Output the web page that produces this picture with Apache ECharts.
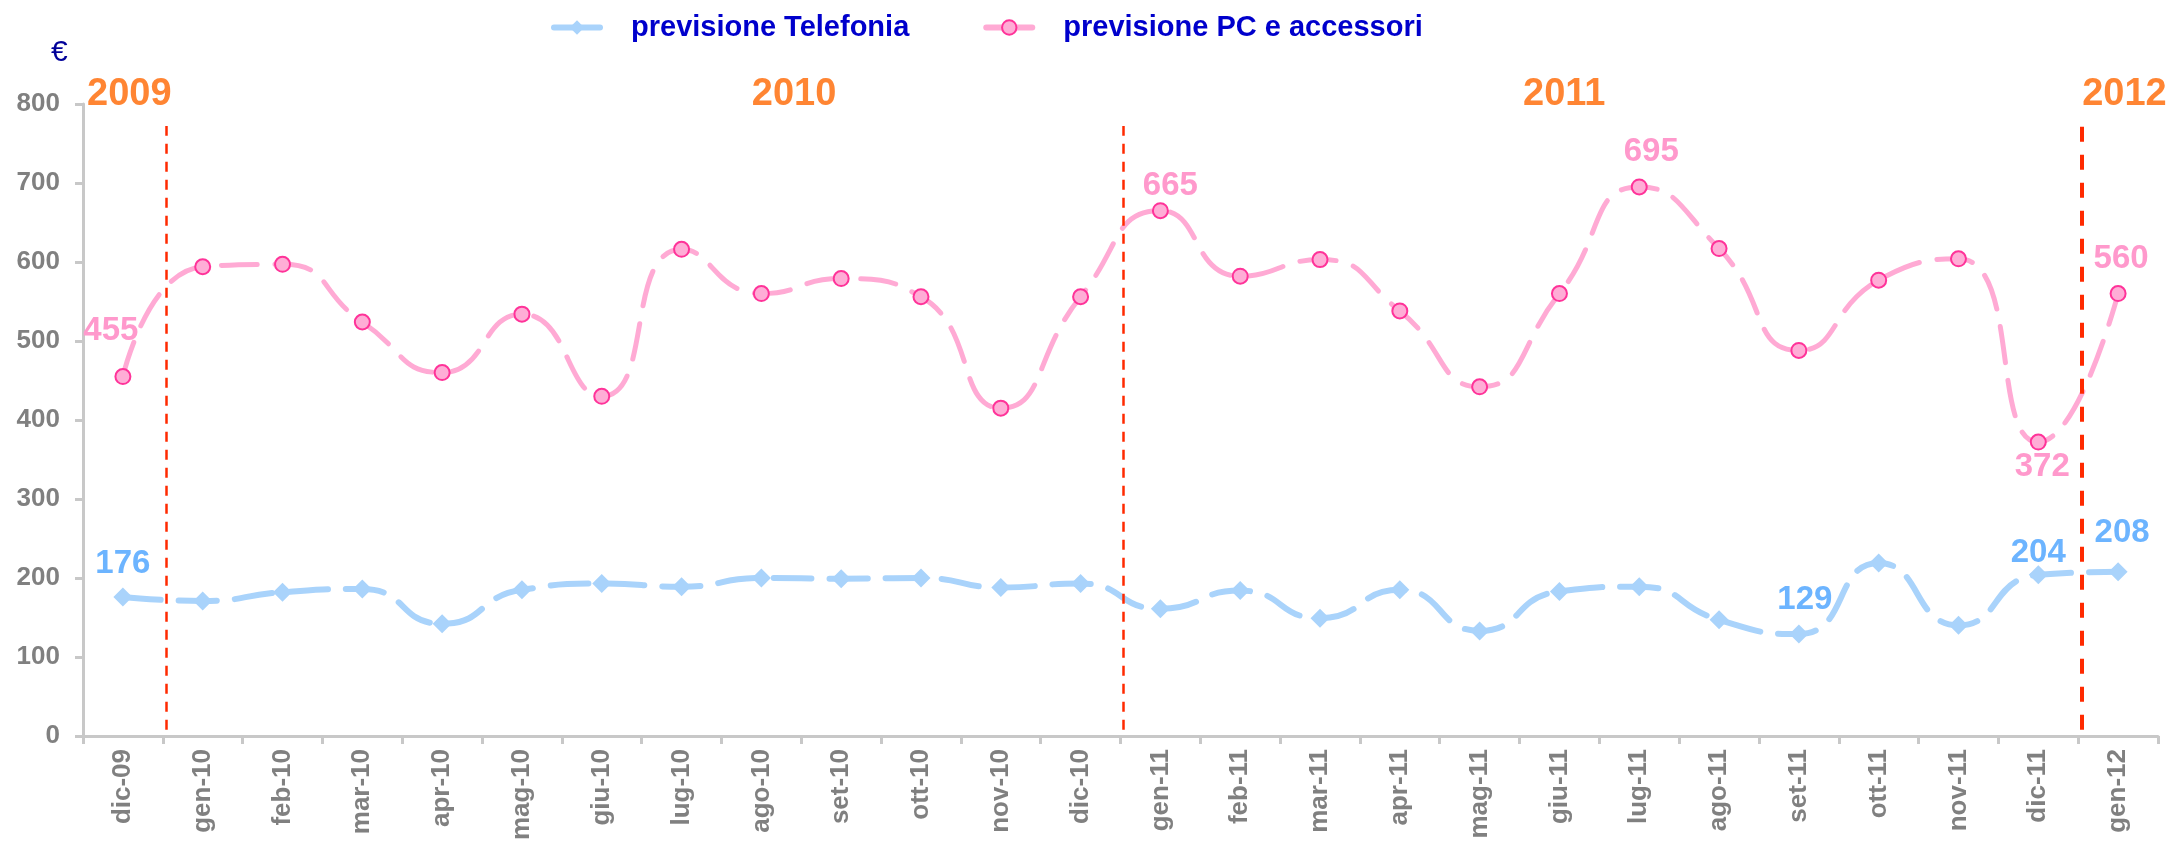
<!DOCTYPE html>
<html>
<head>
<meta charset="utf-8">
<title>previsione Telefonia / PC e accessori</title>
<script src="https://cdn.jsdelivr.net/npm/echarts@6.0.0/dist/echarts.min.js"></script>
<style>
  html, body { margin: 0; padding: 0; background: #fff; }
  #chart_1 { width: 2174px; height: 843px; }
</style>
</head>
<body>
<div id="chart_1"></div>
<script>
var mesi = ['dic-09', 'gen-10', 'feb-10', 'mar-10', 'apr-10', 'mag-10', 'giu-10', 'lug-10', 'ago-10',
  'set-10', 'ott-10', 'nov-10', 'dic-10', 'gen-11', 'feb-11', 'mar-11', 'apr-11', 'mag-11', 'giu-11',
  'lug-11', 'ago-11', 'set-11', 'ott-11', 'nov-11', 'dic-11', 'gen-12'];
var telefonia = [176, 171, 182, 186, 142, 185, 193, 189, 200, 199, 200, 188, 193,
  161, 184, 149, 185, 133, 183, 189, 147, 129, 219, 140, 204, 208];
var pcAccessori = [455, 594, 597, 524, 460, 534, 430, 616, 560, 579, 556, 415, 556,
  665, 582, 603, 538, 442, 560, 695, 617, 488, 577, 604, 372, 560];
var anni = ['2009', '2010', '2011', '2012'];
var cambioAnno = [1, 13, 25]; // confine tra dic e gen (indice categoria)

var font = '"Liberation Sans", Arial, sans-serif';

chart();

function chart() {
  var myChart = echarts.init(document.getElementById('chart_1'));

  // etichette sui punti: indice -> [posizione, distanza, spostamento x]
  var lblTel = { 0: ['top', 7, 0], 21: ['top', 8, 6], 24: ['top', -4, 0], 25: ['top', 13, 4] };
  var lblPc = { 0: ['top', 21, -12], 13: ['top', 0, 10], 19: ['top', 10, 12], 24: ['bottom', 0, 4], 25: ['top', 10, 3] };
  // posizione delle scritte degli anni sull'asse nascosto (0..26)
  var xAnni = [0.58, 8.91, 18.56, 25.58];

  var conEtichette = function (valori, conf, colore) {
    return valori.map(function (v, i) {
      var c = conf[i];
      if (!c) return v;
      return {
        value: v,
        label: {
          show: true, position: c[0], distance: c[1], offset: [c[2], 0],
          color: colore, fontSize: 33, fontWeight: 'bold', fontFamily: font
        }
      };
    });
  };

  var lineeAnno = cambioAnno.map(function (x, i) {
    var ultimo = i === cambioAnno.length - 1;
    var st = ultimo
      ? { color: '#ff2a00', width: 4, type: [15, 13] }
      : { color: '#ff2a00', width: 2.5, type: [10, 8] };
    var xx = x + 0.04;
    return [{ coord: [xx, 8], lineStyle: st }, { coord: [xx, 772], lineStyle: st }];
  });

  var option = {
    animation: false,
    title: {
      text: '€', left: 46, top: 33,
      textStyle: { color: '#000099', fontSize: 30, fontWeight: 'normal', fontFamily: font }
    },
    legend: {
      data: ['previsione Telefonia', 'previsione PC e accessori'],
      left: 546, top: 8,
      itemWidth: 46, itemHeight: 18, itemGap: 74,
      lineStyle: { type: 'solid', width: 6 },
      textStyle: {
        color: '#0000CC', fontSize: 29, fontWeight: 'bold', fontFamily: font,
        padding: [0, 0, 0, 26]
      }
    },
    grid: { left: 83, right: 16, top: 104, bottom: 107, containLabel: false },
    xAxis: [
      {
        type: 'category',
        data: mesi,
        boundaryGap: true,
        axisLine: { lineStyle: { color: '#c8c8c8', width: 3 } },
        axisTick: { show: true, interval: 0, length: 8, lineStyle: { color: '#c8c8c8', width: 3 } },
        axisLabel: {
          interval: 0, rotate: 90, margin: 13,
          color: '#808080', fontSize: 26, fontWeight: 'bold', fontFamily: font
        },
        splitLine: { show: false }
      },
      { type: 'value', min: 0, max: 26, show: false }
    ],
    yAxis: {
      type: 'value', min: 0, max: 800, interval: 100,
      axisLine: { show: true, lineStyle: { color: '#c8c8c8', width: 3 } },
      axisTick: { show: true, length: 8, lineStyle: { color: '#c8c8c8', width: 3 } },
      splitLine: { show: false },
      axisLabel: { margin: 23, color: '#808080', fontSize: 26, fontWeight: 'bold', fontFamily: font }
    },
    series: [
      {
        name: 'previsione Telefonia',
        type: 'line',
        data: conEtichette(telefonia, lblTel, '#6CB4FF'),
        smooth: 0.55,
        symbol: 'diamond',
        symbolSize: 19,
        showAllSymbol: true,
        itemStyle: { color: '#A9D3FB' },
        lineStyle: { color: '#A9D3FB', width: 6, type: [38, 18], cap: 'round' },
        z: 3
      },
      {
        name: 'previsione PC e accessori',
        type: 'line',
        data: conEtichette(pcAccessori, lblPc, '#FF99CC'),
        smooth: 0.55,
        symbol: 'circle',
        symbolSize: 15,
        showAllSymbol: true,
        itemStyle: { color: '#FFADD6', borderColor: '#FF3399', borderWidth: 2 },
        lineStyle: { color: '#FFAAD4', width: 5, type: [36, 18], cap: 'round' },
        z: 3
      },
      {
        // scritte degli anni e linee di separazione
        name: 'anni',
        type: 'scatter',
        xAxisIndex: 1,
        yAxisIndex: 0,
        clip: false,
        silent: true,
        symbolSize: 0,
        data: anni.map(function (a, i) { return { name: a, value: [xAnni[i], 812] }; }),
        label: {
          show: true, position: 'inside', formatter: '{b}',
          color: '#FF6600', fontSize: 38, fontWeight: 'bold', fontFamily: font
        },
        markLine: {
          silent: true,
          symbol: 'none',
          label: { show: false },
          data: lineeAnno
        },
        z: 2
      }
    ]
  };

  myChart.setOption(option);
  window.addEventListener('resize', function () {
    myChart.resize();
  });
}
</script>
</body>
</html>
